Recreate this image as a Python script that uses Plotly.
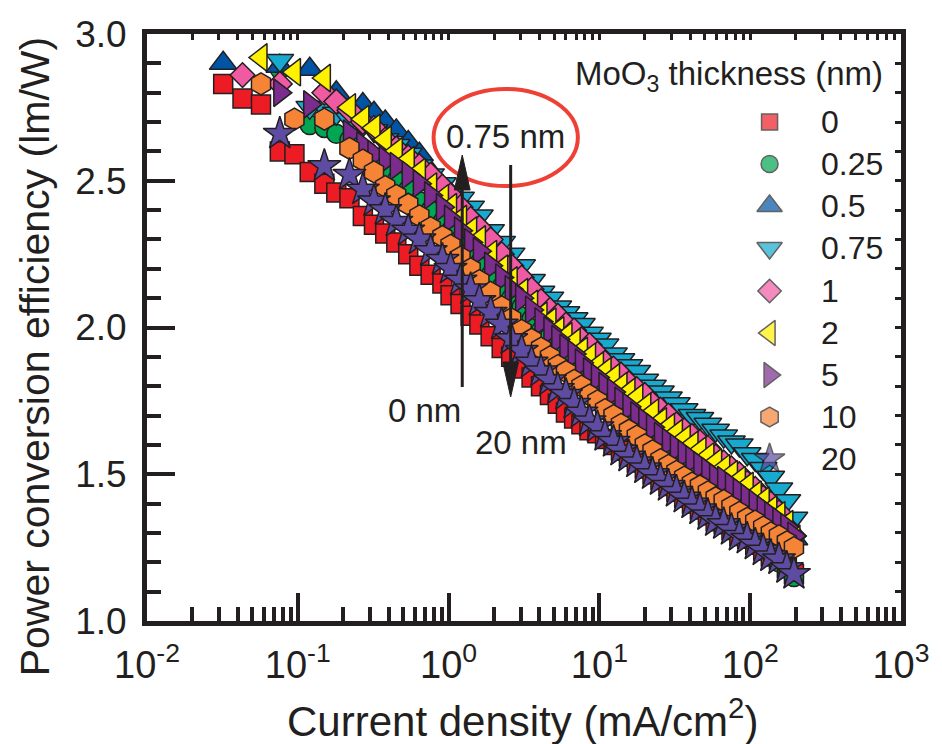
import plotly.graph_objects as go

# ---------------- data ----------------
J = [0.032, 0.043, 0.057, 0.076, 0.095, 0.12, 0.15, 0.18, 0.22, 0.27,
     0.32, 0.38, 0.45, 0.54, 0.64, 0.76, 0.91, 1.03, 1.2, 1.4,
     1.6, 1.9, 2.25, 2.6, 3.05, 3.55, 4.1, 4.7, 5.3, 6.0,
     6.8, 7.6, 8.6, 9.7, 10.9, 12.4, 13.9, 15.7, 17.7, 20.0,
     22.5, 25.4, 28.7, 32.4, 36.5, 41.1, 46.4, 52.4, 59.0, 66.7,
     75.1, 84.7, 95.5, 108, 122, 137, 155, 175, 195]

N = None
PCE_0 = [2.83, 2.78, 2.76, 2.60, 2.59, 2.53, 2.49, 2.46, 2.44, 2.38,
         2.35, 2.32, 2.29, 2.25, 2.21, 2.18, 2.15, 2.11, 2.08, 2.04,
         2.01, 1.97, 1.93, 1.90, 1.86, 1.83, 1.80, 1.77, 1.74, 1.71,
         1.69, 1.67, 1.65, 1.64, 1.62, 1.60, 1.58, 1.56, 1.54, 1.52,
         1.50, 1.48, 1.46, 1.44, 1.42, 1.40, 1.38, 1.36, 1.34, 1.33,
         1.31, 1.29, 1.28, 1.26, 1.24, 1.22, 1.21, 1.18, 1.16]
PCE_025 = [N, N, N, 2.88, N, 2.69, 2.68, 2.66, 2.64, 2.60,
           2.57, 2.53, 2.50, 2.47, 2.43, 2.40, 2.36, 2.33, 2.30, 2.26,
           2.22, 2.18, 2.14, 2.10, 2.07, 2.03, 1.99, 1.97, 1.94, 1.92,
           1.89, 1.86, 1.84, 1.81, 1.79, 1.76, 1.74, 1.71, 1.68, 1.66,
           1.63, 1.61, 1.58, 1.55, 1.53, 1.50, 1.48, 1.45, 1.42, 1.40,
           1.37, 1.34, 1.31, 1.29, 1.26, 1.23, 1.20, 1.18, 1.15]
PCE_05 = [2.90, N, N, 2.89, N, 2.88, N, 2.80, N, 2.76,
          2.73, 2.70, 2.67, 2.63, 2.59, 2.53, 2.48, 2.45, 2.41, 2.37,
          2.33, 2.29, 2.24, 2.20, 2.16, 2.12, 2.08, 2.04, 2.02, 1.99,
          1.97, 1.94, 1.92, 1.89, 1.87, 1.85, 1.82, 1.80, 1.78, 1.75,
          1.73, 1.70, 1.68, 1.66, 1.64, 1.62, 1.60, 1.58, 1.55, 1.53,
          1.51, 1.49, 1.47, 1.44, 1.42, 1.39, 1.37, 1.33, 1.28]
PCE_075 = [N, N, N, 2.91, N, 2.75, 2.75, 2.73, 2.71, 2.69,
           2.67, 2.64, 2.62, 2.59, 2.55, 2.52, 2.49, 2.46, 2.44, 2.41,
           2.38, 2.33, 2.29, 2.25, 2.21, 2.16, 2.12, 2.10, 2.07, 2.05,
           2.03, 2.01, 1.98, 1.96, 1.94, 1.91, 1.89, 1.87, 1.85, 1.82,
           1.80, 1.78, 1.76, 1.74, 1.72, 1.70, 1.69, 1.67, 1.65, 1.63,
           1.61, 1.60, 1.57, 1.55, 1.52, 1.49, 1.45, 1.41, 1.35]
PCE_1 = [N, 2.86, N, 2.83, N, N, 2.80, 2.77, 2.74, 2.70,
         2.68, 2.64, 2.61, 2.58, 2.55, 2.52, 2.48, 2.45, 2.41, 2.37,
         2.34, 2.30, 2.25, 2.21, 2.17, 2.13, 2.09, 2.06, 2.04, 2.01,
         1.99, 1.96, 1.94, 1.91, 1.88, 1.86, 1.84, 1.81, 1.79, 1.77,
         1.74, 1.72, 1.70, 1.67, 1.65, 1.63, 1.61, 1.59, 1.56, 1.54,
         1.52, 1.50, 1.47, 1.45, 1.42, 1.40, 1.37, 1.32, 1.29]
PCE_2 = [N, N, 2.92, N, 2.87, N, 2.85, N, 2.75, 2.71,
         2.68, 2.64, 2.60, 2.57, 2.53, 2.48, 2.44, 2.41, 2.37, 2.33,
         2.30, 2.25, 2.20, 2.16, 2.12, 2.08, 2.04, 2.02, 1.99, 1.97,
         1.95, 1.92, 1.90, 1.87, 1.85, 1.83, 1.80, 1.78, 1.76, 1.73,
         1.71, 1.68, 1.66, 1.64, 1.62, 1.60, 1.58, 1.56, 1.54, 1.52,
         1.50, 1.48, 1.46, 1.43, 1.41, 1.38, 1.36, 1.33, 1.28]
PCE_5 = [N, N, N, 2.80, N, 2.76, N, N, 2.66, 2.62,
         2.59, 2.57, 2.55, 2.52, 2.49, 2.45, 2.41, 2.37, 2.33, 2.29,
         2.26, 2.21, 2.17, 2.13, 2.10, 2.06, 2.02, 1.99, 1.96, 1.93,
         1.91, 1.88, 1.85, 1.83, 1.80, 1.78, 1.75, 1.73, 1.70, 1.68,
         1.66, 1.63, 1.61, 1.59, 1.57, 1.55, 1.53, 1.51, 1.49, 1.48,
         1.46, 1.44, 1.42, 1.40, 1.38, 1.36, 1.34, 1.32, 1.29]
PCE_10 = [N, N, 2.83, N, 2.71, N, 2.71, N, 2.61, 2.57,
          2.53, 2.48, 2.45, 2.42, 2.38, 2.34, 2.31, 2.28, 2.24, 2.20,
          2.16, 2.12, 2.07, 2.03, 1.99, 1.96, 1.93, 1.90, 1.87, 1.85,
          1.82, 1.80, 1.77, 1.75, 1.72, 1.70, 1.67, 1.65, 1.63, 1.60,
          1.58, 1.55, 1.53, 1.51, 1.49, 1.47, 1.46, 1.44, 1.42, 1.41,
          1.39, 1.37, 1.35, 1.34, 1.32, 1.30, 1.29, 1.27, 1.25]
PCE_20 = [N, N, N, 2.66, N, N, 2.55, N, 2.52, 2.47,
          2.43, 2.40, 2.36, 2.33, 2.30, 2.26, 2.23, 2.20, 2.16, 2.13,
          2.09, 2.05, 2.01, 1.96, 1.92, 1.88, 1.85, 1.82, 1.79, 1.77,
          1.74, 1.71, 1.68, 1.66, 1.63, 1.61, 1.58, 1.56, 1.54, 1.52,
          1.50, 1.48, 1.46, 1.44, 1.42, 1.40, 1.38, 1.36, 1.34, 1.33,
          1.31, 1.29, 1.28, 1.26, 1.24, 1.22, 1.21, 1.18, 1.16]

LABELS = ["0", "0.25", "0.5", "0.75", "1", "2", "5", "10", "20"]
SERIES = [PCE_0, PCE_025, PCE_05, PCE_075, PCE_1, PCE_2, PCE_5, PCE_10, PCE_20]
SYMBOLS = ["square", "circle", "triangle-up", "triangle-down", "diamond",
           "triangle-left", "triangle-right", "hexagon", "star"]
COLORS = ["#ED1C24", "#00A651", "#0054A6", "#17A9CE", "#F05AA3",
          "#FFF200", "#7B2C8C", "#F58437", "#5E4CA2"]
SIZES = [19, 19, 24, 24, 19, 24, 24, 22, 25]
LEG_SIZES = [16, 17, 22, 22, 18, 22, 22, 20, 23]

X_TICKS = [0.01, 0.1, 1, 10, 100, 1000]
X_TICKTEXT = ["10<sup>-2</sup>", "10<sup>-1</sup>", "10<sup>0</sup>",
              "10<sup>1</sup>", "10<sup>2</sup>", "10<sup>3</sup>"]
Y_TICKS = [1.0, 1.5, 2.0, 2.5, 3.0]
Y_TICKTEXT = ["1.0", "1.5", "2.0", "2.5", "3.0"]

# ---------------- layout constants (pixels) ----------------
W, H = 942, 744
L, R, T, B = 147, 910, 34, 621          # plot area edges
INK = "#231F20"
FONT = "Liberation Sans, Arial, Helvetica, sans-serif"

LEG_X, LEG_TXT_X = 777, 827
LEG_ROWS = [122, 164, 206, 248, 291, 333, 375, 417, 459]


def px(xp):
    return (xp - L) / (R - L)


def py(yp):
    return (B - yp) / (B - T)


fig = go.Figure()

for lab, pce, sym, col, sz in zip(LABELS, SERIES, SYMBOLS, COLORS, SIZES):
    xs = [j for j, p in zip(J, pce) if p is not None]
    ys = [p for p in pce if p is not None]
    fig.add_trace(go.Scatter(
        x=xs, y=ys, mode="markers", name=lab, showlegend=False,
        marker=dict(symbol=sym, color=col, size=sz,
                    line=dict(color=INK, width=1.5)),
        cliponaxis=True))

# helper (empty) traces so that the mirrored tick axes get drawn
fig.add_trace(go.Scatter(x=[], y=[], xaxis="x2", yaxis="y", showlegend=False))
fig.add_trace(go.Scatter(x=[], y=[], xaxis="x", yaxis="y2", showlegend=False))

# custom legend markers on a pixel-space overlay axis
fig.add_trace(go.Scatter(
    x=[LEG_X] * len(LABELS), y=LEG_ROWS, xaxis="x3", yaxis="y3",
    mode="markers", showlegend=False, cliponaxis=False,
    marker=dict(symbol=SYMBOLS, color=COLORS, size=LEG_SIZES,
                line=dict(color=INK, width=1.5))))

minor_x = [k * 10 ** d for d in range(-2, 3) for k in range(2, 10)]

fig.update_layout(
    width=W, height=H,
    margin=dict(l=L, r=W - R, t=T, b=H - B, pad=0),
    paper_bgcolor="white", plot_bgcolor="white",
    font=dict(family=FONT, color=INK),
    showlegend=False,
    xaxis=dict(type="log", range=[-2, 3], tickvals=X_TICKS, ticktext=X_TICKTEXT,
               ticks="inside", ticklen=28, tickwidth=3.5, tickcolor=INK,
               showline=True, linewidth=5, linecolor=INK, mirror=True,
               showgrid=False, zeroline=False,
               tickfont=dict(size=38, family=FONT, color=INK),
               ticklabelstandoff=6,
               minor=dict(tickvals=minor_x, ticks="inside", ticklen=14,
                          tickwidth=3.5, tickcolor=INK, showgrid=False)),
    yaxis=dict(range=[1.0, 3.0], tickvals=Y_TICKS, ticktext=Y_TICKTEXT,
               ticks="inside", ticklen=28, tickwidth=3.5, tickcolor=INK,
               showline=True, linewidth=5, linecolor=INK, mirror=True,
               showgrid=False, zeroline=False,
               tickfont=dict(size=37, family=FONT, color=INK),
               ticklabelstandoff=8,
               minor=dict(dtick=0.1, ticks="inside", ticklen=14,
                          tickwidth=3.5, tickcolor=INK, showgrid=False)),
    xaxis2=dict(type="log", range=[-2, 3], overlaying="x", side="top",
                anchor="y", tickvals=X_TICKS + minor_x, ticks="inside",
                ticklen=6, tickwidth=3, tickcolor=INK, showticklabels=False,
                showline=False, showgrid=False, zeroline=False),
    yaxis2=dict(range=[1.0, 3.0], overlaying="y", side="right", anchor="x",
                dtick=0.1, tick0=1.0, ticks="inside", ticklen=6, tickwidth=3,
                tickcolor=INK, showticklabels=False, showline=False,
                showgrid=False, zeroline=False),
    xaxis3=dict(range=[L, R], overlaying="x", anchor="y3", visible=False,
                showgrid=False, zeroline=False),
    yaxis3=dict(range=[B, T], overlaying="y", anchor="x3", visible=False,
                showgrid=False, zeroline=False),
)

annotations = []
# axis titles
annotations.append(dict(xref="paper", yref="paper", x=px(527), y=py(718),
                        text="Current density (mA/cm<sup>2</sup>)", showarrow=False,
                        font=dict(size=42, family=FONT, color=INK),
                        xanchor="center", yanchor="middle"))
annotations.append(dict(xref="paper", yref="paper", x=px(34), y=py(357),
                        text="Power conversion efficiency (lm/W)", showarrow=False,
                        textangle=-90, font=dict(size=41, family=FONT, color=INK),
                        xanchor="center", yanchor="middle"))
# legend title and labels
annotations.append(dict(xref="x3", yref="y3", x=578, y=76,
                        text="MoO<sub>3</sub> thickness (nm)", showarrow=False,
                        font=dict(size=33, family=FONT, color=INK),
                        xanchor="left", yanchor="middle"))
for lab, yr in zip(LABELS, LEG_ROWS):
    annotations.append(dict(xref="x3", yref="y3", x=LEG_TXT_X, y=yr, text=lab,
                            showarrow=False, xanchor="left", yanchor="middle",
                            font=dict(size=32, family=FONT, color=INK)))
# in-plot notes
for txt, xx, yy in [("0.75 nm", 510, 136), ("0 nm", 428, 410), ("20 nm", 525, 442)]:
    annotations.append(dict(xref="x3", yref="y3", x=xx, y=yy, text=txt,
                            showarrow=False, xanchor="center", yanchor="middle",
                            font=dict(size=33, family=FONT, color=INK)))
fig.update_layout(annotations=annotations)

shapes = [
    dict(type="circle", xref="x3", yref="y3", x0=437, x1=583, y0=89, y1=186,
         line=dict(color="#EE4035", width=4), layer="above"),
    dict(type="line", xref="x3", yref="y3", x0=466, x1=466, y0=387, y1=185,
         line=dict(color=INK, width=3), layer="above"),
    dict(type="path", xref="x3", yref="y3", path="M 458 190 L 474 190 L 466 155 Z",
         fillcolor=INK, line=dict(color=INK, width=1), layer="above"),
    dict(type="line", xref="x3", yref="y3", x0=515, x1=515, y0=165, y1=367,
         line=dict(color=INK, width=3), layer="above"),
    dict(type="path", xref="x3", yref="y3", path="M 507 362 L 523 362 L 515 397 Z",
         fillcolor=INK, line=dict(color=INK, width=1), layer="above"),
]
fig.update_layout(shapes=shapes)

fig.write_html("out.html")
